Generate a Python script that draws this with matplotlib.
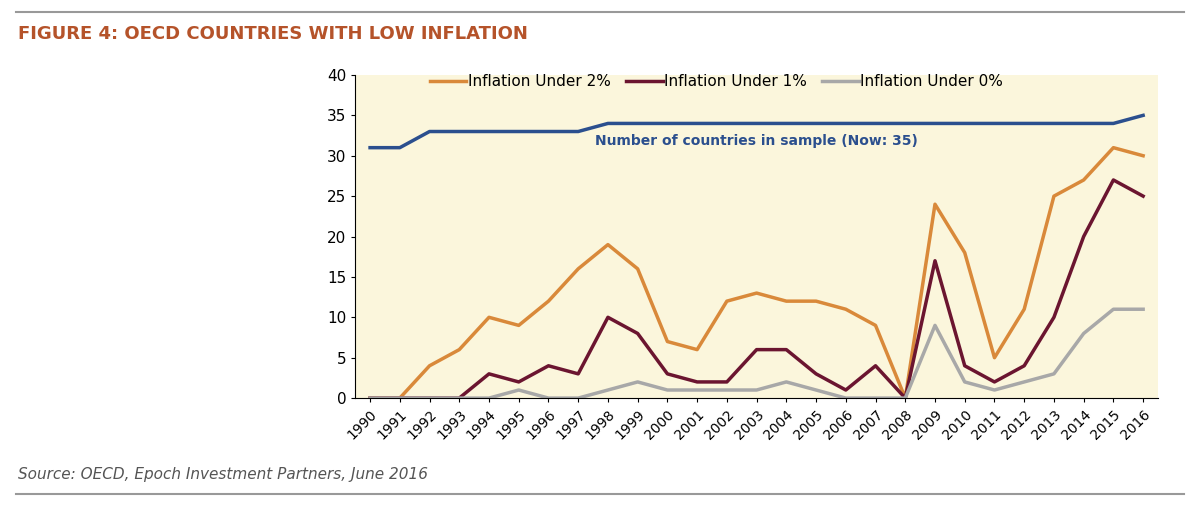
import numpy as np
import matplotlib.pyplot as plt
from matplotlib.lines import Line2D

years = list(range(1990, 2017))
sample = [31, 31, 33, 33, 33, 33, 33, 33, 34, 34, 34, 34, 34, 34, 34, 34, 34, 34, 34, 34, 34, 34, 34, 34, 34, 34, 35]
under2 = [0, 0, 4, 6, 10, 9, 12, 16, 19, 16, 7, 6, 12, 13, 12, 12, 11, 9, 0, 24, 18, 5, 11, 25, 27, 31, 30]
under1 = [0, 0, 0, 0, 3, 2, 4, 3, 10, 8, 3, 2, 2, 6, 6, 3, 1, 4, 0, 17, 4, 2, 4, 10, 20, 27, 25]
under0 = [0, 0, 0, 0, 0, 1, 0, 0, 1, 2, 1, 1, 1, 1, 2, 1, 0, 0, 0, 9, 2, 1, 2, 3, 8, 11, 11]

fig = plt.figure(figsize=(12, 5.17), dpi=100)
ax = fig.add_axes([0.296, 0.23, 0.669, 0.625])
ax.set_facecolor('#fbf6dc')

x = np.arange(len(years))
ax.plot(x, sample, color='#2b4f8e', lw=2.5)
ax.plot(x, under2, color='#d9893a', lw=2.5, label='Inflation Under 2%')
ax.plot(x, under1, color='#6b1530', lw=2.5, label='Inflation Under 1%')
ax.plot(x, under0, color='#a8a8a8', lw=2.5, label='Inflation Under 0%')

ax.set_xlim(-0.5, len(years) - 0.5)
ax.set_ylim(0, 40)
ax.set_yticks(range(0, 41, 5))
ax.set_xticks(x)
ax.set_xticklabels([str(y) for y in years], rotation=45, ha='right', rotation_mode='anchor')
ax.tick_params(axis='x', labelsize=10, length=3)
ax.tick_params(axis='y', labelsize=11, length=3)
for s in ['top', 'right']:
    ax.spines[s].set_visible(False)

ax.text(13, 31.8, 'Number of countries in sample (Now: 35)', color='#2b4f8e',
        fontsize=10, fontweight='bold', ha='center', va='center')

ax.legend(loc='upper center', bbox_to_anchor=(0.45, 1.045), ncol=3, frameon=False,
          fontsize=11, handlelength=2.4, columnspacing=1.0, handletextpad=0.1)

fig.add_artist(Line2D([0.013, 0.987], [0.977, 0.977], color='#999999', lw=1.5))
fig.add_artist(Line2D([0.013, 0.987], [0.045, 0.045], color='#999999', lw=1.5))
fig.text(0.015, 0.935, 'FIGURE 4: OECD COUNTRIES WITH LOW INFLATION', color='#b5532a',
         fontsize=13, fontweight='bold', va='center')
fig.text(0.015, 0.083, 'Source: OECD, Epoch Investment Partners, June 2016', color='#555555',
         fontsize=11, style='italic', va='center')

fig.savefig('out.png', dpi=100)
